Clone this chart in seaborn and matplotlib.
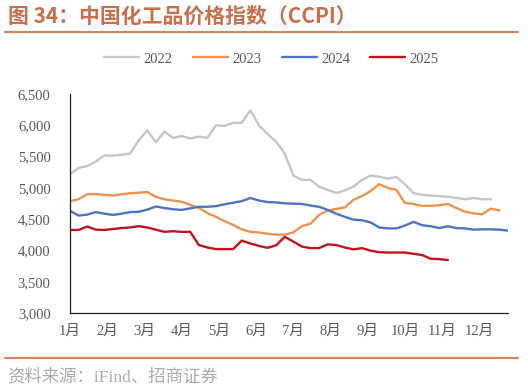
import numpy as np
import pandas as pd
import matplotlib
matplotlib.use("Agg")
import matplotlib.pyplot as plt
import seaborn as sns

# weekly index values (week 0 = first week of Jan)
ccpi_2022 = [5220, 5320, 5350, 5420, 5520, 5515, 5530, 5550, 5760, 5920,
             5730, 5900, 5800, 5830, 5790, 5820, 5800, 6000, 5990, 6040,
             6040, 6240, 6000, 5860, 5740, 5550, 5200, 5130, 5130, 5020,
             4970, 4920, 4960, 5020, 5130, 5200, 5180, 5150, 5175, 5060,
             4920, 4890, 4880, 4870, 4860, 4840, 4820, 4840, 4820, 4820]
ccpi_2023 = [4790, 4820, 4900, 4905, 4890, 4880, 4900, 4915, 4925, 4935,
             4860, 4820, 4800, 4780, 4730, 4685, 4600, 4540, 4470, 4410,
             4340, 4300, 4290, 4270, 4255, 4255, 4290, 4390, 4430, 4570,
             4640, 4665, 4690, 4810, 4870, 4950, 5060, 5000, 4970, 4760,
             4745, 4715, 4715, 4725, 4745, 4680, 4620, 4595, 4580, 4670,
             4640]
ccpi_2024 = [4635, 4560, 4575, 4615, 4590, 4570, 4590, 4615, 4620, 4655,
             4705, 4680, 4660, 4650, 4675, 4700, 4700, 4710, 4740, 4765,
             4790, 4840, 4800, 4775, 4770, 4755, 4750, 4745, 4720, 4700,
             4650, 4590, 4540, 4495, 4485, 4450, 4370, 4355, 4355, 4400,
             4460, 4405, 4390, 4360, 4390, 4360, 4355, 4335, 4340, 4340,
             4335, 4320]
ccpi_2025 = [4330, 4330, 4385, 4335, 4330, 4345, 4360, 4370, 4390, 4370,
             4335, 4300, 4310, 4300, 4300, 4090, 4050, 4025, 4025, 4025,
             4160, 4115, 4075, 4045, 4085, 4220, 4145, 4065, 4040, 4040,
             4100, 4090, 4050, 4020, 4040, 4000, 3975, 3970, 3970, 3970,
             3950, 3930, 3870, 3865, 3850]
years = ["2022", "2023", "2024", "2025"]
month_labels = [f"{m}月" for m in range(1, 13)]

series = dict(zip(years, [ccpi_2022, ccpi_2023, ccpi_2024, ccpi_2025]))
frames = []
for yr, vals in series.items():
    frames.append(pd.DataFrame({"week": np.arange(len(vals)), "value": vals, "year": yr}))
df = pd.concat(frames, ignore_index=True)

sns.set_theme(style="white")
plt.rcParams['font.family'] = ['Liberation Serif', 'Noto Sans CJK SC']

fig = plt.figure(figsize=(5.28, 3.92), dpi=100)
ax = fig.add_axes([70 / 528, 1 - 313.3 / 392, 438 / 528, 219.3 / 392])

palette = {"2022": "#C6C6C6", "2023": "#EE9450", "2024": "#4F74C2", "2025": "#C0141F"}
sns.lineplot(data=df, x="week", y="value", hue="year", palette=palette,
             linewidth=1.7, ax=ax)

ax.set_xlim(0, 51)
ax.set_ylim(3000, 6500)
ax.set_yticks(range(3000, 7000, 500))
ax.set_yticklabels([f"{v:,}" for v in range(3000, 7000, 500)])
ax.set_xticks([m * 52 / 12 for m in range(12)])
ax.set_xticklabels(month_labels)
ax.set_xlabel("")
ax.set_ylabel("")
ax.tick_params(axis="both", direction="in", length=4, width=0.8, colors="#222222",
               labelcolor="#595959", labelsize=10.5)
ax.tick_params(axis="y", pad=14)
ax.tick_params(axis="x", pad=8)
for side in ["top", "right"]:
    ax.spines[side].set_visible(False)
for side in ["left", "bottom"]:
    ax.spines[side].set_color("#222222")
    ax.spines[side].set_linewidth(0.9)

leg = ax.legend(loc="upper center", bbox_to_anchor=(0.46, 1.25), ncol=4, frameon=False,
                fontsize=10.5, handlelength=2.4, columnspacing=1.4, handletextpad=0.3)
for t in leg.get_texts():
    t.set_color("#595959")

# header and footer
fig.text(8 / 528, 1 - 16 / 392, "图 34：中国化工品价格指数（CCPI）", fontsize=15,
         fontweight="bold", color="#C8704E", va="center", ha="left",
         family=['Noto Sans CJK SC'])
fig.add_artist(plt.Line2D([5 / 528, 518 / 528], [1 - 32 / 392, 1 - 32 / 392],
                          color="#D9825B", linewidth=1.5))
fig.add_artist(plt.Line2D([5 / 528, 518 / 528], [1 - 358 / 392, 1 - 358 / 392],
                          color="#D9825B", linewidth=1.5))
fig.text(7 / 528, 1 - 377 / 392, "资料来源：iFind、招商证券", fontsize=12.5,
         color="#ABABAB", va="center", ha="left")

fig.savefig("out.png", dpi=100)
